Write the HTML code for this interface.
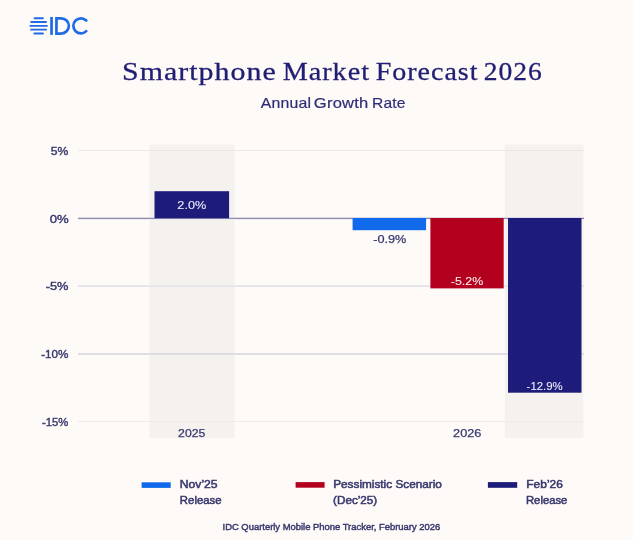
<!DOCTYPE html>
<html>
<head>
<meta charset="utf-8">
<style>
html,body{margin:0;padding:0;background:#fefaf7;width:633px;height:540px;overflow:hidden;}
svg{display:block;will-change:transform;}
</style>
</head>
<body>
<svg width="633" height="540" viewBox="0 0 633 540">

<rect x="0" y="0" width="633" height="540" fill="#fefaf7"/>
<g fill="#1f6be6">
<rect x="33.6" y="17.3" width="10.3" height="1.9" rx="0.95"/>
<rect x="30.2" y="21.1" width="16.8" height="1.9" rx="0.95"/>
<rect x="29.4" y="24.9" width="18.5" height="1.9" rx="0.95"/>
<rect x="30.2" y="28.7" width="16.8" height="1.9" rx="0.95"/>
<rect x="33.4" y="32.5" width="10.5" height="1.9" rx="0.95"/>
</g>
<rect x="50.2" y="17" width="2.7" height="17.9" fill="#1f6be6"/>
<path d="M56.45 18.35 H61.25 A7.6 7.6 0 0 1 61.25 33.55 H56.45 Z" fill="none" stroke="#1f6be6" stroke-width="2.7"/>
<path d="M86.28 20.55 A7.55 7.55 0 1 0 86.28 31.15" fill="none" stroke="#1f6be6" stroke-width="2.7" stroke-linecap="round"/>
<rect x="149.5" y="144.5" width="85" height="293.3" fill="#f5f1ee"/>
<rect x="504.8" y="144.5" width="78.7" height="293.3" fill="#f5f1ee"/>
<g shape-rendering="crispEdges">
<rect x="78" y="150" width="506" height="1" fill="#ebe8e8"/>
<rect x="78" y="285" width="506" height="1" fill="#ebe9ef"/>
<rect x="78" y="286" width="506" height="1" fill="#e4e2e8"/>
<rect x="78" y="353" width="506" height="1" fill="#dfdde3"/>
<rect x="78" y="354" width="506" height="1" fill="#e0dee4"/>
<rect x="78" y="421" width="506" height="1" fill="#eeebe9"/>
<rect x="78" y="217" width="506" height="1" fill="#dcdae4"/>
<rect x="78" y="218" width="506" height="1" fill="#8f8cab"/>
<rect x="78" y="219" width="506" height="1" fill="#eeecf2"/>
</g>
<rect x="154.5" y="191.2" width="74.6" height="27" fill="#1e1c7a"/>
<rect x="352.6" y="218" width="73.5" height="12.2" fill="#116aeb"/>
<rect x="430.4" y="218" width="73.3" height="70.4" fill="#b3001e"/>
<rect x="508" y="218" width="73.5" height="174.7" fill="#1e1c7a"/>
<rect x="141.6" y="482.3" width="29.1" height="5.6" fill="#116aeb"/>
<rect x="295.6" y="482.1" width="29" height="5.6" fill="#b3001e"/>
<rect x="487.9" y="482.1" width="29.3" height="5.7" fill="#1e1c7a"/>

<text x="122.0" y="80.4" font-family="'Liberation Serif', serif" font-weight="normal" font-size="26" fill="#211f74" stroke="#211f74" stroke-width="0.3" textLength="154.77" lengthAdjust="spacingAndGlyphs" letter-spacing="0.9">Smartphone</text>
<text x="282.69" y="80.4" font-family="'Liberation Serif', serif" font-weight="normal" font-size="26" fill="#211f74" stroke="#211f74" stroke-width="0.3" textLength="87.25" lengthAdjust="spacingAndGlyphs" letter-spacing="0.9">Market</text>
<text x="375.79" y="80.4" font-family="'Liberation Serif', serif" font-weight="normal" font-size="26" fill="#211f74" stroke="#211f74" stroke-width="0.3" textLength="102.64" lengthAdjust="spacingAndGlyphs" letter-spacing="0.9">Forecast</text>
<text x="483.79" y="80.4" font-family="'Liberation Serif', serif" font-weight="normal" font-size="26" fill="#211f74" stroke="#211f74" stroke-width="0.3" textLength="58.99" lengthAdjust="spacingAndGlyphs" letter-spacing="0.9">2026</text>
<text x="260.67" y="108.4" font-family="'Liberation Sans', sans-serif" font-weight="normal" font-size="14.5" fill="#2e2d7a" stroke="#2e2d7a" stroke-width="0.2" textLength="50.61" lengthAdjust="spacingAndGlyphs" letter-spacing="0.2">Annual</text>
<text x="313.87" y="108.4" font-family="'Liberation Sans', sans-serif" font-weight="normal" font-size="14.5" fill="#2e2d7a" stroke="#2e2d7a" stroke-width="0.2" textLength="54.63" lengthAdjust="spacingAndGlyphs" letter-spacing="0.2">Growth</text>
<text x="371.92" y="108.4" font-family="'Liberation Sans', sans-serif" font-weight="normal" font-size="14.5" fill="#2e2d7a" stroke="#2e2d7a" stroke-width="0.2" textLength="33.79" lengthAdjust="spacingAndGlyphs" letter-spacing="0.2">Rate</text>
<text x="50.81" y="154.8" font-family="'Liberation Sans', sans-serif" font-weight="normal" font-size="11.2" fill="#38386f" stroke="#38386f" stroke-width="0.4" textLength="17.52" lengthAdjust="spacingAndGlyphs">5%</text>
<text x="49.79" y="222.6" font-family="'Liberation Sans', sans-serif" font-weight="normal" font-size="11.2" fill="#38386f" stroke="#38386f" stroke-width="0.4" textLength="18.98" lengthAdjust="spacingAndGlyphs">0%</text>
<text x="45.73" y="290.4" font-family="'Liberation Sans', sans-serif" font-weight="normal" font-size="11.2" fill="#38386f" stroke="#38386f" stroke-width="0.4" textLength="22.72" lengthAdjust="spacingAndGlyphs">-5%</text>
<text x="41.18" y="358.2" font-family="'Liberation Sans', sans-serif" font-weight="normal" font-size="11.2" fill="#38386f" stroke="#38386f" stroke-width="0.4" textLength="27.23" lengthAdjust="spacingAndGlyphs">-10%</text>
<text x="42.0" y="426.0" font-family="'Liberation Sans', sans-serif" font-weight="normal" font-size="11.2" fill="#38386f" stroke="#38386f" stroke-width="0.4" textLength="26.3" lengthAdjust="spacingAndGlyphs">-15%</text>
<text x="177.36" y="209.1" font-family="'Liberation Sans', sans-serif" font-weight="normal" font-size="11.6" fill="#ececf8" stroke="#ececf8" stroke-width="0.1" textLength="28.79" lengthAdjust="spacingAndGlyphs">2.0%</text>
<text x="373.24" y="242.7" font-family="'Liberation Sans', sans-serif" font-weight="normal" font-size="11.6" fill="#38386f" stroke="#38386f" stroke-width="0.25" textLength="33.12" lengthAdjust="spacingAndGlyphs">-0.9%</text>
<text x="450.85" y="285.4" font-family="'Liberation Sans', sans-serif" font-weight="normal" font-size="11.6" fill="#fbecee" stroke="#fbecee" stroke-width="0.1" textLength="32.29" lengthAdjust="spacingAndGlyphs">-5.2%</text>
<text x="526.6" y="389.7" font-family="'Liberation Sans', sans-serif" font-weight="normal" font-size="11.6" fill="#ececf8" stroke="#ececf8" stroke-width="0.1" textLength="36.01" lengthAdjust="spacingAndGlyphs">-12.9%</text>
<text x="178.08" y="436.5" font-family="'Liberation Sans', sans-serif" font-weight="normal" font-size="11.6" fill="#38386f" stroke="#38386f" stroke-width="0.25" textLength="27.23" lengthAdjust="spacingAndGlyphs">2025</text>
<text x="453.06" y="436.5" font-family="'Liberation Sans', sans-serif" font-weight="normal" font-size="11.6" fill="#38386f" stroke="#38386f" stroke-width="0.25" textLength="28.4" lengthAdjust="spacingAndGlyphs">2026</text>
<text x="179.8" y="488.2" font-family="'Liberation Sans', sans-serif" font-weight="normal" font-size="10.5" fill="#38386f" stroke="#38386f" stroke-width="0.5" textLength="37.81" lengthAdjust="spacingAndGlyphs">Nov’25</text>
<text x="179.87" y="504" font-family="'Liberation Sans', sans-serif" font-weight="normal" font-size="10.5" fill="#38386f" stroke="#38386f" stroke-width="0.5" textLength="41.74" lengthAdjust="spacingAndGlyphs">Release</text>
<text x="333.23" y="488.4" font-family="'Liberation Sans', sans-serif" font-weight="normal" font-size="10.5" fill="#38386f" stroke="#38386f" stroke-width="0.5" textLength="108.66" lengthAdjust="spacingAndGlyphs">Pessimistic Scenario</text>
<text x="333.08" y="504" font-family="'Liberation Sans', sans-serif" font-weight="normal" font-size="10.5" fill="#38386f" stroke="#38386f" stroke-width="0.5" textLength="44.15" lengthAdjust="spacingAndGlyphs">(Dec’25)</text>
<text x="526.32" y="488.2" font-family="'Liberation Sans', sans-serif" font-weight="normal" font-size="10.5" fill="#38386f" stroke="#38386f" stroke-width="0.5" textLength="36.5" lengthAdjust="spacingAndGlyphs">Feb’26</text>
<text x="525.97" y="504" font-family="'Liberation Sans', sans-serif" font-weight="normal" font-size="10.5" fill="#38386f" stroke="#38386f" stroke-width="0.5" textLength="41.43" lengthAdjust="spacingAndGlyphs">Release</text>
<text x="222.54" y="530.4" font-family="'Liberation Sans', sans-serif" font-weight="normal" font-size="9.6" fill="#38386f" stroke="#38386f" stroke-width="0.45" textLength="217.68" lengthAdjust="spacingAndGlyphs">IDC Quarterly Mobile Phone Tracker, February 2026</text>
</svg>
</body>
</html>
